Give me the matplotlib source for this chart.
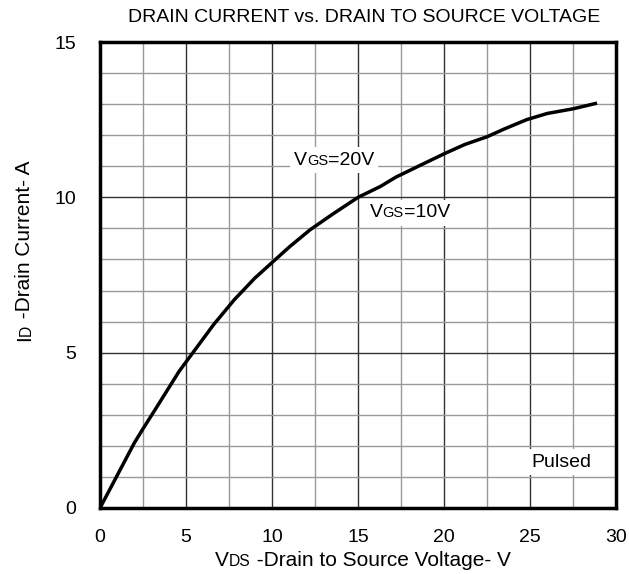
import matplotlib
matplotlib.use("Agg")
import matplotlib.pyplot as plt
from matplotlib.offsetbox import TextArea, HPacker, AnnotationBbox
from matplotlib.ticker import MultipleLocator
from matplotlib.transforms import IdentityTransform

plt.rcParams['font.family'] = ['Liberation Sans', 'DejaVu Sans']

vds = [0, 1, 2, 2.5, 3.3, 4.6, 5.4, 6.6, 7.8, 9, 10, 11, 12.2, 13.5, 15,
       16.3, 17.2, 18.5, 20, 21.2, 22.5, 23.5, 24.8, 26, 27.5, 28.8]
id_ = [0, 1.05, 2.1, 2.55, 3.25, 4.4, 5.0, 5.9, 6.7, 7.4, 7.9, 8.4, 8.95, 9.45, 10.0,
       10.35, 10.65, 11.0, 11.4, 11.7, 11.95, 12.2, 12.5, 12.7, 12.85, 13.02]

xticks = [0, 5, 10, 15, 20, 25, 30]
yticks = [0, 5, 10, 15]

FS = 14

fig = plt.figure(figsize=(6.29, 5.74), dpi=100)
ax = fig.add_axes([0.159, 0.115, 0.8204, 0.8118])
ax.set_xlim(0, 30)
ax.set_ylim(0, 15)
ax.set_xticks(xticks)
ax.set_yticks(yticks)
ax.xaxis.set_minor_locator(MultipleLocator(2.5))
ax.yaxis.set_minor_locator(MultipleLocator(1))
ax.grid(which='major', color='#333333', linewidth=1.0)
ax.grid(which='minor', color='#999999', linewidth=1.0)
ax.set_axisbelow(True)
ax.tick_params(which='both', length=0)
ax.tick_params(axis='x', pad=15, labelsize=FS)
ax.tick_params(axis='y', pad=17, labelsize=FS)
for s in ax.spines.values():
    s.set_linewidth(2.5)
    s.set_color('black')

ax.plot(vds, id_, color='black', linewidth=2.5, zorder=3)

fig.text(364 / 629, 1 - 18 / 574, "DRAIN CURRENT vs. DRAIN TO SOURCE VOLTAGE",
         ha='center', va='center', fontsize=FS)


def vbox(first, sub, rest, fs=FS):
    return HPacker(children=[TextArea(first, textprops=dict(fontsize=fs)),
                             TextArea(sub, textprops=dict(fontsize=fs * 0.75)),
                             TextArea(rest, textprops=dict(fontsize=fs))],
                   align="baseline", pad=0, sep=0)


def vlabel(x, y, sub, rest):
    ab = AnnotationBbox(vbox("V", sub, rest), (x, y), xycoords='data', frameon=True,
                        bboxprops=dict(facecolor='white', edgecolor='none'), pad=0.3, zorder=4)
    ax.add_artist(ab)


vlabel(13.6, 11.2, "GS", "=20V")
vlabel(18.0, 9.5, "GS", "=10V")
ax.text(26.8, 1.48, "Pulsed", fontsize=FS, ha='center', va='center', zorder=4,
        bbox=dict(facecolor='white', edgecolor='none', pad=3))

# x-axis label with small-caps style subscript
xl = AnnotationBbox(vbox("V", "DS", " -Drain to Source Voltage- V", fs=15), (215 / 629, 1 - 560 / 574),
                    xycoords='figure fraction', box_alignment=(0, 0.5), frameon=False, pad=0)
fig.add_artist(xl)

# y-axis label, rotated, built from pieces so the "D" sits on the baseline
ylab_parts = [("I", 15), ("D", 15 * 0.75), (" -Drain Current- A", 15)]
renderer = fig.canvas.get_renderer()
pieces = []
lengths = []
for s, fs in ylab_parts:
    t = fig.text(0, 0, s, fontsize=fs, rotation=90, rotation_mode='anchor',
                 ha='left', va='baseline', transform=IdentityTransform())
    lengths.append(t.get_window_extent(renderer).height)
    pieces.append(t)
yc = 574 - 251
xb = 23 + 0.36 * 15 * 100 / 72
ycur = yc - sum(lengths) / 2
for t, L in zip(pieces, lengths):
    t.set_position((xb, ycur))
    ycur += L

fig.savefig("out.png", dpi=100)
